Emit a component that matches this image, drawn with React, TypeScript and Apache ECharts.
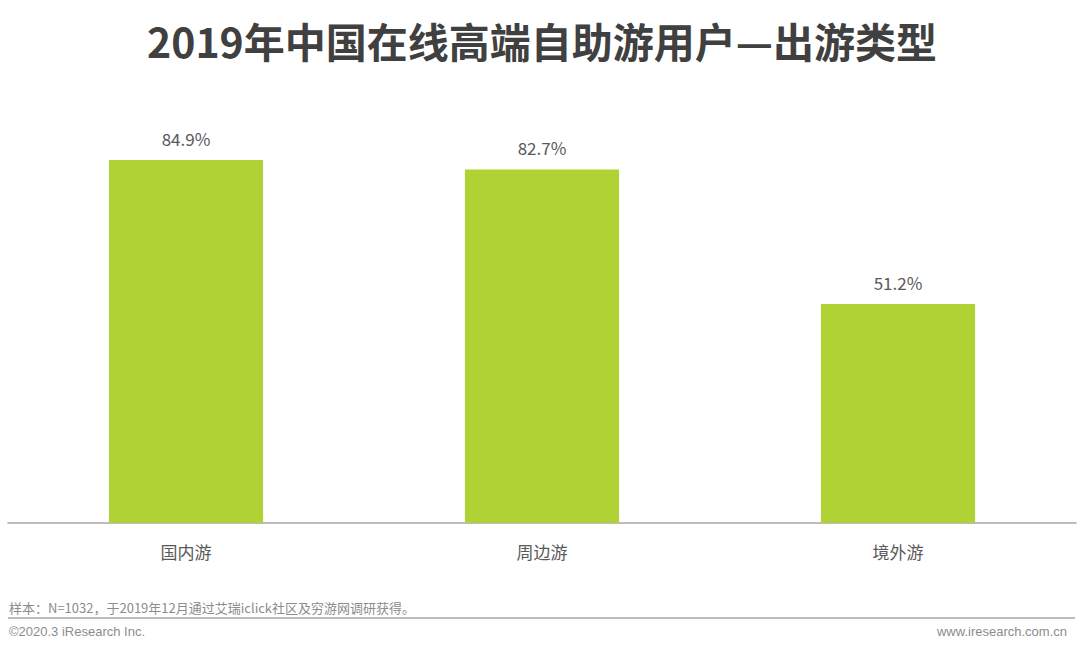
import React, { useEffect, useRef } from "react";
import * as echarts from "echarts";

const categories = ["国内游", "周边游", "境外游"];
const values = [84.9, 82.7, 51.2];
const title = "2019年中国在线高端自助游用户—出游类型";
const note = "样本：N=1032，于2019年12月通过艾瑞iclick社区及穷游网调研获得。";
const copyright = "©2020.3 iResearch Inc.";
const website = "www.iresearch.com.cn";

export default function App() {
  const ref = useRef<HTMLDivElement>(null);
  useEffect(() => {
    if (!ref.current) return;
    const chart = echarts.init(ref.current, null, { renderer: "svg" });
    const font = "'Noto Sans CJK SC', 'Noto Sans', sans-serif";
    chart.setOption({
      animation: false,
      backgroundColor: "#ffffff",
      textStyle: { fontFamily: font },
      grid: { left: 8, right: 4, top: 95.5, bottom: 126, containLabel: false },
      xAxis: {
        type: "category",
        data: categories,
        axisLine: { lineStyle: { color: "#a6a6a6", width: 1.5 } },
        axisTick: { show: false },
        axisLabel: { color: "#595959", fontSize: 17, margin: 20, fontFamily: font },
      },
      yAxis: {
        type: "value",
        min: 0,
        max: 100,
        show: false,
        splitLine: { show: false },
      },
      series: [
        {
          type: "bar",
          data: values,
          barWidth: "43.3%",
          itemStyle: { color: "#b1d234" },
          label: {
            show: true,
            position: "top",
            distance: 13,
            formatter: (p: any) => `${p.value}%`,
            color: "#595959",
            fontSize: 17,
            fontFamily: font,
          },
        },
      ],
      graphic: [
        {
          type: "text",
          x: 542,
          y: 40,
          style: {
            text: title,
            font: `bold 41px ${font}`,
            fill: "#404040",
            align: "center",
            verticalAlign: "middle",
          },
        },
        {
          type: "line",
          shape: { x1: 8, y1: 618, x2: 1075, y2: 618 },
          style: { stroke: "#a6a6a6", lineWidth: 1.5 },
        },
        {
          type: "text",
          left: 9,
          top: 601,
          style: { text: note, font: `13px ${font}`, fill: "#8c8c8c" },
        },
        {
          type: "text",
          left: 9,
          top: 625,
          style: { text: copyright, font: `13px 'Liberation Sans', Arial, sans-serif`, fill: "#8c8c8c" },
        },
        {
          type: "text",
          right: 13,
          top: 625,
          style: { text: website, font: `13px 'Liberation Sans', Arial, sans-serif`, fill: "#8c8c8c" },
        },
      ],
    });
    return () => chart.dispose();
  }, []);
  return (
    <div
      ref={ref}
      style={{ width: 1080, height: 649, position: "absolute", left: 0, top: 0 }}
    />
  );
}
